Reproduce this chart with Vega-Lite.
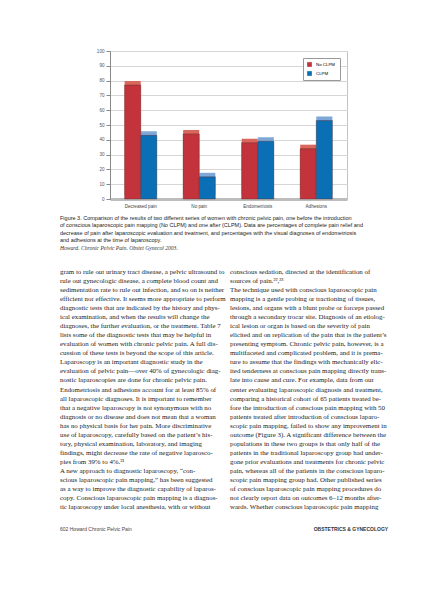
{
  "$schema": "https://vega.github.io/schema/vega-lite/v6.json",
  "description": "Figure 3 page: conscious laparoscopic pain mapping outcomes",
  "background": "white",
  "padding": {"left": 60, "top": 48, "right": 5, "bottom": 5},
  "width": 237,
  "height": 148,
  "config": {"font": "Liberation Sans", "view": {"stroke": "#c4c4c4"}},
  "resolve": {"scale": {"x": "independent", "y": "independent"}},
  "layer": [
    {
      "data": {
        "values": [
          {"category": "Decreased pain", "series": "No CLPM", "value": 77},
          {"category": "Decreased pain", "series": "CLPM", "value": 43},
          {"category": "No pain", "series": "No CLPM", "value": 44},
          {"category": "No pain", "series": "CLPM", "value": 15},
          {"category": "Endometriosis", "series": "No CLPM", "value": 38},
          {"category": "Endometriosis", "series": "CLPM", "value": 39},
          {"category": "Adhesions", "series": "No CLPM", "value": 34},
          {"category": "Adhesions", "series": "CLPM", "value": 53}
        ]
      },
      "encoding": {
        "x": {
          "field": "category",
          "type": "nominal",
          "sort": ["Decreased pain", "No pain", "Endometriosis", "Adhesions"],
          "scale": {"paddingInner": 0.45, "paddingOuter": 0.25},
          "axis": {
            "title": null,
            "labelAngle": 0,
            "labelFontSize": 4.6,
            "labelColor": "#444",
            "ticks": false,
            "domainColor": "#bdbdbd",
            "domainWidth": 3,
            "labelPadding": 4
          }
        },
        "xOffset": {"field": "series", "sort": ["No CLPM", "CLPM"]},
        "y": {
          "field": "value",
          "type": "quantitative",
          "scale": {"domain": [0, 100]},
          "axis": {
            "title": null,
            "values": [0, 10, 20, 30, 40, 50, 60, 70, 80, 90, 100],
            "labelFontSize": 4.6,
            "labelColor": "#555",
            "tickColor": "#888",
            "domainColor": "#888",
            "gridColor": "#d6d6d6",
            "tickSize": 4,
            "labelPadding": 2
          }
        }
      },
      "layer": [
        {
          "mark": {"type": "bar", "xOffset": 5, "yOffset": -4},
          "encoding": {
            "color": {
              "condition": {"test": "datum.series === 'No CLPM'", "value": "#d9675c"},
              "value": "#7fa8d8"
            }
          }
        },
        {
          "mark": {"type": "bar", "stroke": "#5a2a2a", "strokeWidth": 0.4},
          "encoding": {
            "color": {
              "field": "series",
              "type": "nominal",
              "scale": {"domain": ["No CLPM", "CLPM"], "range": ["#c3333b", "#0b6fb6"]},
              "legend": {
                "title": null,
                "orient": "top-right",
                "offset": 7,
                "fillColor": "white",
                "strokeColor": "#999",
                "padding": 4,
                "symbolType": "square",
                "symbolSize": 22,
                "symbolStrokeWidth": 0,
                "labelFontSize": 4.4,
                "rowPadding": 3
              }
            }
          }
        }
      ]
    },
    {
      "data": {
        "values": [
          {"line": 1, "kind": "caption", "text": "Figure 3. Comparison of the results of two different series of women with chronic pelvic pain, one before the introduction"},
          {"line": 2, "kind": "caption", "text": "of conscious laparoscopic pain mapping (No CLPM) and one after (CLPM). Data are percentages of complete pain relief and"},
          {"line": 3, "kind": "caption", "text": "decrease of pain after laparoscopic evaluation and treatment, and percentages with the visual diagnoses of endometriosis"},
          {"line": 4, "kind": "caption", "text": "and adhesions at the time of laparoscopy."},
          {"line": 5, "kind": "source", "text": "Howard. Chronic Pelvic Pain. Obstet Gynecol 2003."}
        ]
      },
      "encoding": {
        "x": {"datum": 0, "type": "quantitative", "scale": {"domain": [0.2941, 1.6882], "zero": false, "nice": false}, "axis": null},
        "y": {"field": "line", "type": "quantitative", "scale": {"domain": [-21.267, -1.533], "reverse": true, "zero": false, "nice": false}, "axis": null},
        "text": {"field": "text"}
      },
      "layer": [
        {
          "transform": [{"filter": "datum.kind === 'caption'"}],
          "mark": {"type": "text", "align": "left", "baseline": "middle", "font": "Liberation Sans", "fontSize": 5.5, "color": "#222"}
        },
        {
          "transform": [{"filter": "datum.kind === 'source'"}],
          "mark": {"type": "text", "align": "left", "baseline": "middle", "font": "Liberation Serif", "fontStyle": "italic", "fontSize": 5.6, "color": "#333"}
        }
      ]
    },
    {
      "layer": [
        {
          "data": {
            "values": [
              {"col": 0, "line": 1, "text": "gram to rule out urinary tract disease, a pelvic ultrasound to"},
              {"col": 0, "line": 2, "text": "rule out gynecologic disease, a complete blood count and"},
              {"col": 0, "line": 3, "text": "sedimentation rate to rule out infection, and so on is neither"},
              {"col": 0, "line": 4, "text": "efficient nor effective. It seems more appropriate to perform"},
              {"col": 0, "line": 5, "text": "diagnostic tests that are indicated by the history and phys-"},
              {"col": 0, "line": 6, "text": "ical examination, and when the results will change the"},
              {"col": 0, "line": 7, "text": "diagnoses, the further evaluation, or the treatment. Table 7"},
              {"col": 0, "line": 8, "text": "lists some of the diagnostic tests that may be helpful in"},
              {"col": 0, "line": 9, "text": "evaluation of women with chronic pelvic pain. A full dis-"},
              {"col": 0, "line": 10, "text": "cussion of these tests is beyond the scope of this article."},
              {"col": 0, "line": 11, "text": "\u2003\u2002Laparoscopy is an important diagnostic study in the"},
              {"col": 0, "line": 12, "text": "evaluation of pelvic pain\u2014over 40% of gynecologic diag-"},
              {"col": 0, "line": 13, "text": "nostic laparoscopies are done for chronic pelvic pain."},
              {"col": 0, "line": 14, "text": "Endometriosis and adhesions account for at least 85% of"},
              {"col": 0, "line": 15, "text": "all laparoscopic diagnoses. It is important to remember"},
              {"col": 0, "line": 16, "text": "that a negative laparoscopy is not synonymous with no"},
              {"col": 0, "line": 17, "text": "diagnosis or no disease and does not mean that a woman"},
              {"col": 0, "line": 18, "text": "has no physical basis for her pain. More discriminative"},
              {"col": 0, "line": 19, "text": "use of laparoscopy, carefully based on the patient\u2019s his-"},
              {"col": 0, "line": 20, "text": "tory, physical examination, laboratory, and imaging"},
              {"col": 0, "line": 21, "text": "findings, might decrease the rate of negative laparosco-"},
              {"col": 0, "line": 22, "text": "pies from 39% to 4%.\u00b2\u00b9"},
              {"col": 0, "line": 23, "text": "\u2003\u2002A new approach to diagnostic laparoscopy, \u201ccon-"},
              {"col": 0, "line": 24, "text": "scious laparoscopic pain mapping,\u201d has been suggested"},
              {"col": 0, "line": 25, "text": "as a way to improve the diagnostic capability of laparos-"},
              {"col": 0, "line": 26, "text": "copy. Conscious laparoscopic pain mapping is a diagnos-"},
              {"col": 0, "line": 27, "text": "tic laparoscopy under local anesthesia, with or without"},
              {"col": 1, "line": 1, "text": "conscious sedation, directed at the identification of"},
              {"col": 1, "line": 2, "text": "sources of pain.\u00b2\u00b2,\u00b2\u00b3"},
              {"col": 1, "line": 3, "text": "\u2003\u2002The technique used with conscious laparoscopic pain"},
              {"col": 1, "line": 4, "text": "mapping is a gentle probing or tractioning of tissues,"},
              {"col": 1, "line": 5, "text": "lesions, and organs with a blunt probe or forceps passed"},
              {"col": 1, "line": 6, "text": "through a secondary trocar site. Diagnosis of an etiolog-"},
              {"col": 1, "line": 7, "text": "ical lesion or organ is based on the severity of pain"},
              {"col": 1, "line": 8, "text": "elicited and on replication of the pain that is the patient\u2019s"},
              {"col": 1, "line": 9, "text": "presenting symptom. Chronic pelvic pain, however, is a"},
              {"col": 1, "line": 10, "text": "multifaceted and complicated problem, and it is prema-"},
              {"col": 1, "line": 11, "text": "ture to assume that the findings with mechanically elic-"},
              {"col": 1, "line": 12, "text": "ited tenderness at conscious pain mapping directly trans-"},
              {"col": 1, "line": 13, "text": "late into cause and cure. For example, data from our"},
              {"col": 1, "line": 14, "text": "center evaluating laparoscopic diagnosis and treatment,"},
              {"col": 1, "line": 15, "text": "comparing a historical cohort of 65 patients treated be-"},
              {"col": 1, "line": 16, "text": "fore the introduction of conscious pain mapping with 50"},
              {"col": 1, "line": 17, "text": "patients treated after introduction of conscious laparo-"},
              {"col": 1, "line": 18, "text": "scopic pain mapping, failed to show any improvement in"},
              {"col": 1, "line": 19, "text": "outcome (Figure 3). A significant difference between the"},
              {"col": 1, "line": 20, "text": "populations in these two groups is that only half of the"},
              {"col": 1, "line": 21, "text": "patients in the traditional laparoscopy group had under-"},
              {"col": 1, "line": 22, "text": "gone prior evaluations and treatments for chronic pelvic"},
              {"col": 1, "line": 23, "text": "pain, whereas all of the patients in the conscious laparo-"},
              {"col": 1, "line": 24, "text": "scopic pain mapping group had. Other published series"},
              {"col": 1, "line": 25, "text": "of conscious laparoscopic pain mapping procedures do"},
              {"col": 1, "line": 26, "text": "not clearly report data on outcomes 6\u201312 months after-"},
              {"col": 1, "line": 27, "text": "wards. Whether conscious laparoscopic pain mapping"}
            ]
          },
          "mark": {"type": "text", "align": "left", "baseline": "middle", "font": "Liberation Serif", "fontSize": 6.9, "color": "#1a1a1a"},
          "encoding": {
            "x": {"field": "col", "type": "quantitative", "scale": {"domain": [0.2941, 1.6882], "zero": false, "nice": false}, "axis": null},
            "y": {"field": "line", "type": "quantitative", "scale": {"domain": [-23.447, -7.075], "reverse": true, "zero": false, "nice": false}, "axis": null},
            "text": {"field": "text"}
          }
        },
        {
          "data": {"values": [{"text": "602     Howard     Chronic Pelvic Pain"}]},
          "mark": {"type": "text", "align": "left", "baseline": "middle", "font": "Liberation Sans", "fontSize": 5, "color": "#444"},
          "encoding": {
            "x": {"datum": 0, "type": "quantitative"},
            "y": {"datum": 29.4, "type": "quantitative"},
            "text": {"field": "text"}
          }
        },
        {
          "data": {"values": [{"text": "OBSTETRICS & GYNECOLOGY"}]},
          "mark": {"type": "text", "align": "right", "baseline": "middle", "font": "Liberation Sans", "fontSize": 5, "fontWeight": "bold", "color": "#333"},
          "encoding": {
            "x": {"datum": 1.93, "type": "quantitative"},
            "y": {"datum": 29.4, "type": "quantitative"},
            "text": {"field": "text"}
          }
        }
      ]
    }
  ]
}
